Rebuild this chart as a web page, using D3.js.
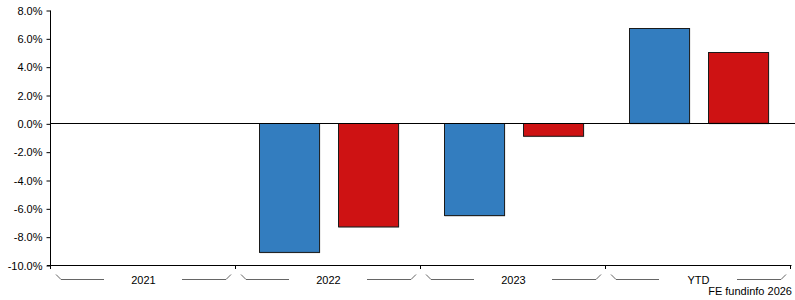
<!DOCTYPE html>
<html>
<head>
<meta charset="utf-8">
<script src="https://cdn.jsdelivr.net/npm/d3@7"></script>
<style>
  body { margin: 0; background: #fff; }
  svg text { font-family: "Liberation Sans", Arial, sans-serif; font-size: 11px; fill: #000; }
</style>
</head>
<body>
<div id="chart"></div>
<script>
const categories = ["2021", "2022", "2023", "YTD"];
const seriesNames = ["Fund", "Sector"];
const fundReturns = [null, -9.1, -6.5, 6.7];
const sectorReturns = [null, -7.3, -0.9, 5.0];
const yTickValues = [-10, -8, -6, -4, -2, 0, 2, 4, 6, 8];
const creditText = "FE fundinfo 2026";

const seriesColors = ["#337dbf", "#ce1213"];

const width = 795, height = 300,
    plot = { left: 51, right: 791, top: 10, bottom: 265 };

const svg = d3.select("#chart").append("svg")
    .attr("width", width)
    .attr("height", height);

const y = d3.scaleLinear()
    .domain([-10, 8])
    .range([plot.bottom, plot.top]);

const x0 = d3.scaleBand()
    .domain(categories)
    .range([plot.left, plot.right]);

const x1 = d3.scaleBand()
    .domain(seriesNames)
    .range([0, x0.bandwidth()])
    .paddingInner(0.24)
    .paddingOuter(0.29);

// rows for the bars, one per category and series
const rows = [];
categories.forEach((c, i) => {
  [fundReturns, sectorReturns].forEach((s, j) => {
    if (s[i] != null) rows.push({ cat: c, series: seriesNames[j], value: s[i], color: seriesColors[j] });
  });
});

// Bars (soft shadow first, then bar).
const bars = svg.append("g").attr("class", "bars");

bars.selectAll("rect.shadow")
    .data(rows)
    .enter().append("rect")
    .attr("class", "shadow")
    .attr("x", (d) => x0(d.cat) + x1(d.series) + 1)
    .attr("y", (d) => Math.min(y(d.value), y(0)) + 1)
    .attr("width", x1.bandwidth())
    .attr("height", (d) => Math.abs(y(d.value) - y(0)))
    .attr("fill", "#999")
    .attr("opacity", 0.6);

bars.selectAll("rect.bar")
    .data(rows)
    .enter().append("rect")
    .attr("class", "bar")
    .attr("x", (d) => Math.round(x0(d.cat) + x1(d.series)) + 0.5)
    .attr("y", (d) => Math.round(Math.min(y(d.value), y(0))) + 0.5)
    .attr("width", x1.bandwidth())
    .attr("height", (d) => Math.abs(y(d.value) - y(0)))
    .attr("fill", (d) => d.color)
    .attr("stroke", "#1a1a1a")
    .attr("stroke-width", 1);

// Zero line.
svg.append("line")
    .attr("x1", plot.left).attr("x2", width)
    .attr("y1", Math.round(y(0)) + 0.5).attr("y2", Math.round(y(0)) + 0.5)
    .attr("stroke", "#000");

// Y axis.
const yAxis = svg.append("g")
    .attr("transform", "translate(" + (plot.left - 0.5) + ",0.5)")
    .call(d3.axisLeft(y)
      .tickValues(yTickValues)
      .tickSize(4)
      .tickPadding(4)
      .tickFormat((d) => d.toFixed(1) + "%"));
yAxis.select(".domain").attr("d", "M0," + plot.top + "V" + plot.bottom);
yAxis.selectAll("text").style("font-size", "11px").style("font-family", "Liberation Sans, Arial, sans-serif");

// X axis line with boundary ticks.
const xAxis = svg.append("g").attr("class", "x-axis");
xAxis.append("line")
    .attr("x1", plot.left - 4).attr("x2", plot.right + 0.5)
    .attr("y1", plot.bottom + 0.5).attr("y2", plot.bottom + 0.5)
    .attr("stroke", "#000");

const bounds = categories.map((c) => x0(c)).concat([plot.right]);
xAxis.selectAll("line.tick")
    .data(bounds)
    .enter().append("line")
    .attr("class", "tick")
    .attr("x1", (d) => Math.round(d) - 0.5).attr("x2", (d) => Math.round(d) - 0.5)
    .attr("y1", plot.bottom).attr("y2", plot.bottom + 4)
    .attr("stroke", "#000");

// Category labels with bracket lines.
const groups = xAxis.selectAll("g.cat")
    .data(categories)
    .enter().append("g")
    .attr("class", "cat");

groups.append("path")
    .attr("fill", "none")
    .attr("stroke", "#666")
    .attr("d", (c) => {
      const a = x0(c), b = a + x0.bandwidth(), yy = plot.bottom + 14.5;
      return "M" + (a + 5) + "," + (yy - 5) + "L" + (a + 10) + "," + yy + "H" + (a + 53)
          + "M" + (b - 54) + "," + yy + "H" + (b - 10) + "L" + (b - 5) + "," + (yy - 5);
    });

groups.append("text")
    .attr("x", (c) => x0(c) + x0.bandwidth() / 2)
    .attr("y", plot.bottom + 19)
    .attr("text-anchor", "middle")
    .text((c) => c);

svg.append("text")
    .attr("x", plot.right + 1)
    .attr("y", 295)
    .attr("text-anchor", "end")
    .text(creditText);
</script>
</body>
</html>
